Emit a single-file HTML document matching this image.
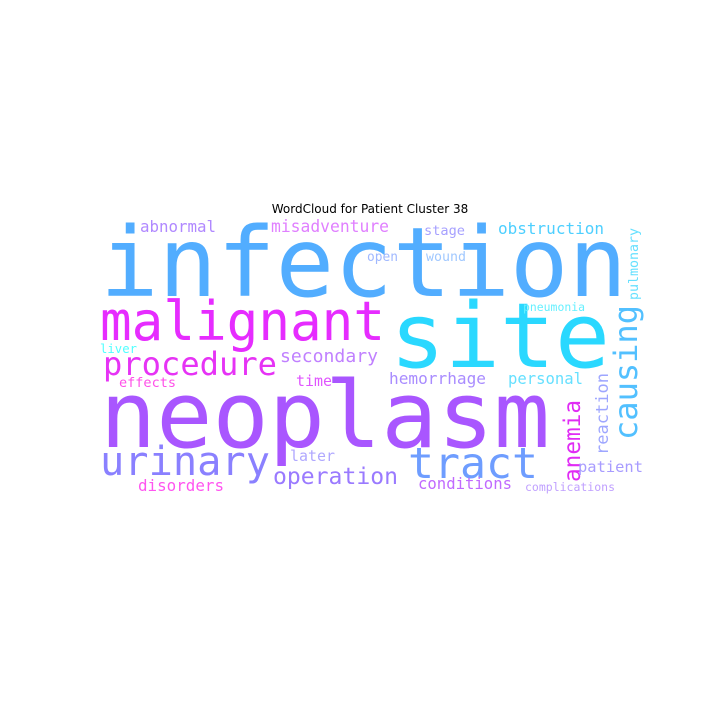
<!DOCTYPE html>
<html><head><meta charset="utf-8"><style>
html,body{margin:0;padding:0;background:#fff;width:720px;height:720px;overflow:hidden}
svg text{font-family:"DejaVu Sans Mono","Liberation Mono",monospace}
</style></head><body>
<svg id="c" width="720" height="720" viewBox="0 0 720 720">
<text x="370" y="213" text-anchor="middle" font-size="12" style="font-family:'DejaVu Sans','Liberation Sans',sans-serif" fill="#000">WordCloud for Patient Cluster 38</text>
</svg>
<script>
const words=["infection","site","malignant","neoplasm","procedure","urinary","tract","operation","secondary","causing","anemia","reaction","patient","hemorrhage","personal","obstruction","pulmonary","pneumonia","stage","wound","open","misadventure","abnormal","liver","effects","time","later","disorders","conditions","complications"];
const colors=["#52adff","#2ad8ff","#e62cff","#a956ff","#e633f5","#8a80ff","#6e9dff","#9a7aff","#c080ff","#52c0ff","#e02cf5","#9ea6ff","#a89cff","#a98cff","#66e0ff","#4dcfff","#66e0ff","#66f0ff","#a6a0ff","#a0c8ff","#a0b8ff","#e080ff","#b088ff","#50ffff","#ff50e8","#e055ff","#b0a8ff","#ff55f0","#c06aff","#c0a0ff"];
// layout: [x, baselineY, length, fontSize, vertical]
const layout=[[100,296,527,96,0],[390,367,220,90,0],[100,340,285,54,0],[100,447,450,92,0],[103,375,174,32,0],[100,475,170,40,0],[408,478,130,43,0],[273,484,125,23,0],[280,362,98,18,0],[637,440,135,32,1],[580,482,82,23,1],[608,455,82,17,1],[578,472,65,15.5,0],[389,384,97,16,0],[508,384,75,15.6,0],[498,234,106,16,0],[638,300,72,13,1],[523,311,62,11.5,0],[424,235,41,13.7,0],[426,261,40,13.5,0],[367,261,31,13,0],[271,232,118,16.4,0],[140,232,76,15.8,0],[100,353,37,12.3,0],[119,387,57,13.6,0],[296,386,36,15,0],[290,461,45,15,0],[138,491,86,16,0],[418,489,94,15.7,0],[525,491,90,11.5,0]];
const svg=document.getElementById('c');
words.forEach((w,i)=>{
  const [x,y,len,fs,v]=layout[i];
  const t=document.createElementNS('http://www.w3.org/2000/svg','text');
  t.textContent=w;
  t.setAttribute('font-size',fs);
  t.setAttribute('fill',colors[i]);
  t.setAttribute('textLength',len);
  t.setAttribute('lengthAdjust','spacingAndGlyphs');
  if(v){t.setAttribute('x',0);t.setAttribute('y',0);t.setAttribute('transform','translate('+x+','+y+') rotate(-90)');}
  else{t.setAttribute('x',x);t.setAttribute('y',y);}
  
  
  svg.appendChild(t);
});
</script>
</body></html>
